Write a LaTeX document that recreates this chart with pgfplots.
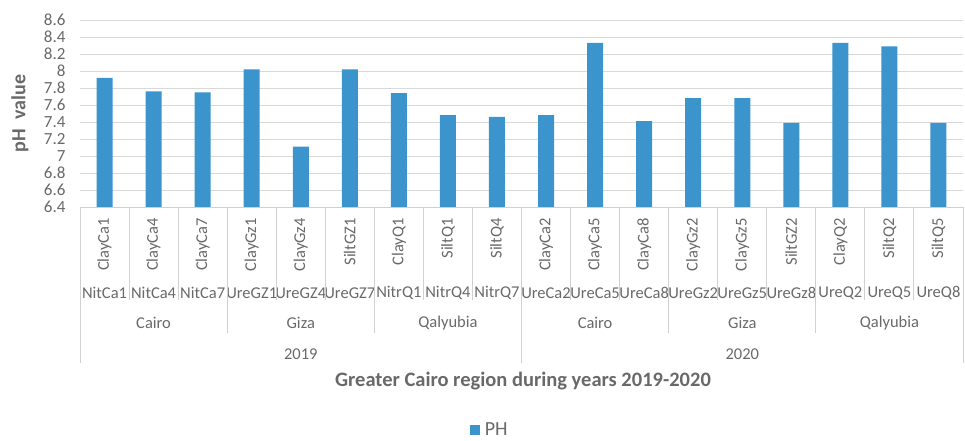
\documentclass[border=0pt]{standalone}
\usepackage{fontspec}
\setmainfont{Carlito}
\usepackage{pgfplots}
\pgfplotsset{compat=1.18}
\definecolor{barblue}{RGB}{60,148,204}
\definecolor{txt}{RGB}{105,105,105}
\definecolor{gridc}{RGB}{217,217,217}
\definecolor{sepc}{RGB}{208,208,208}
\begin{document}
\begin{tikzpicture}[font=\fontsize{16.5}{18}\selectfont, text=txt]
\useasboundingbox (0,0) rectangle (965pt,-440pt);
\begin{axis}[
  at={(80pt,-207pt)}, anchor=south west,
  scale only axis, width=883pt, height=187pt,
  xmin=-0.5, xmax=17.5, ymin=6.4, ymax=8.6,
  enlargelimits=false,
  ybar, bar width=16pt,
  xtick=\empty,
  ytick={6.4,6.6,6.8,7,7.2,7.4,7.6,7.8,8,8.2,8.4,8.6},
  yticklabels={6.4,6.6,6.8,7,7.2,7.4,7.6,7.8,8,8.2,8.4,8.6},
  /pgf/number format/assume math mode=true,
  yticklabel style={font=\fontsize{17}{19}\selectfont, text=txt, xshift=-11pt},
  major tick length=0pt,
  ymajorgrids, grid style={gridc, line width=1pt},
  axis line style={draw=none},
  ylabel={\textbf{pH\ \ value}},
  ylabel style={font=\fontsize{20}{22}\selectfont, text=txt, at={(axis description cs:-0.068,0.5)}, anchor=center},
  legend style={at={(axis description cs:0.464,-1.19)}, anchor=center, draw=none, fill=none, inner sep=1pt, text=txt},
  legend image code/.code={\fill[barblue] (0pt,-5pt) rectangle (10pt,5pt);},
]
\addplot[fill=barblue, draw=none] coordinates {
 (0,7.92) (1,7.76) (2,7.75) (3,8.02) (4,7.11) (5,8.02) (6,7.74) (7,7.48) (8,7.46)
 (9,7.48) (10,8.33) (11,7.41) (12,7.68) (13,7.68) (14,7.39) (15,8.33) (16,8.29) (17,7.39)
};
\legend{{\fontsize{20}{22}\selectfont\hspace{3pt}PH}}
\end{axis}
\def\w{49.0556}
\draw[sepc, line width=1pt] (80pt,-207pt) -- (963pt,-207pt);
% level 1 & 2 labels
\foreach \lab/\labb [count=\i from 0] in {ClayCa1/NitCa1,ClayCa4/NitCa4,ClayCa7/NitCa7,ClayGz1/UreGZ1,ClayGz4/UreGZ4,SiltGZ1/UreGZ7,ClayQ1/NitrQ1,SiltQ1/NitrQ4,SiltQ4/NitrQ7,ClayCa2/UreCa2,ClayCa5/UreCa5,ClayCa8/UreCa8,ClayGz2/UreGz2,ClayGz5/UreGz5,SiltGZ2/UreGz8,ClayQ2/UreQ2,SiltQ2/UreQ5,SiltQ5/UreQ8} {
  \pgfmathsetmacro\cx{80+(\i+0.5)*\w}
  \node[rotate=90, anchor=east, inner sep=0pt] at (\cx pt,-218pt) {\lab};
  \node[anchor=center, inner sep=0pt] at (\cx pt,-293pt) {\labb};
}
% separators within groups
\foreach \b in {0.5,1.5,3.5,4.5,6.5,7.5,9.5,10.5,12.5,13.5,15.5,16.5} {
  \pgfmathsetmacro\bx{80+(\b+0.5)*\w}
  \draw[sepc, line width=1pt] (\bx pt,-207pt) -- (\bx pt,-300pt);
}
\foreach \b in {2.5,5.5,11.5,14.5} {
  \pgfmathsetmacro\bx{80+(\b+0.5)*\w}
  \draw[sepc, line width=1pt] (\bx pt,-207pt) -- (\bx pt,-333pt);
}
\foreach \b in {-0.5,8.5,17.5} {
  \pgfmathsetmacro\bx{80+(\b+0.5)*\w}
  \draw[sepc, line width=1pt] (\bx pt,-207pt) -- (\bx pt,-363pt);
}
% regions
\foreach \r/\c in {Cairo/1,Giza/4,Qalyubia/7,Cairo/10,Giza/13,Qalyubia/16} {
  \pgfmathsetmacro\cx{80+(\c+0.5)*\w}
  \node[anchor=center, inner sep=0pt] at (\cx pt,-323pt) {\r};
}
\foreach \r/\c in {2019/4,2020/13} {
  \pgfmathsetmacro\cx{80+(\c+0.5)*\w}
  \node[anchor=center, inner sep=0pt] at (\cx pt,-354pt) {\r};
}
\node[anchor=center, inner sep=0pt, font=\fontsize{20.5}{22}\selectfont\bfseries] at (523pt,-381pt) {Greater Cairo region during years 2019-2020};
\end{tikzpicture}
\end{document}
